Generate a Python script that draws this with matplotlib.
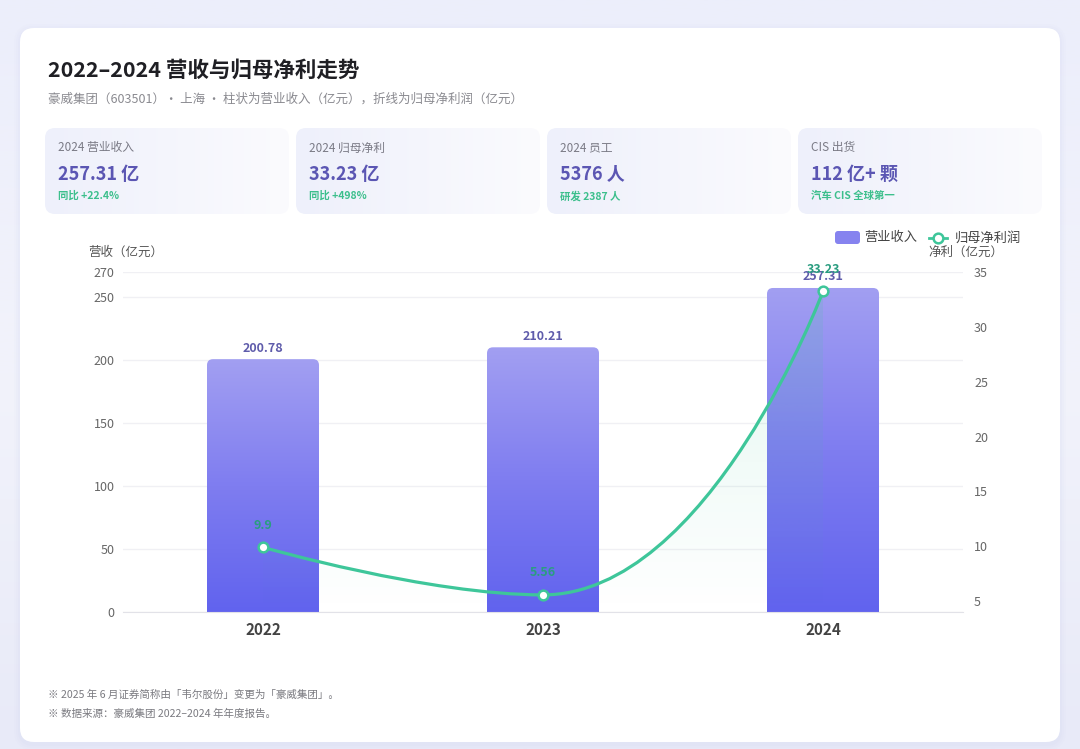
import numpy as np
import matplotlib
matplotlib.use("Agg")
import matplotlib.pyplot as plt
from matplotlib.patches import FancyBboxPatch, PathPatch
from matplotlib.path import Path
from matplotlib.colors import LinearSegmentedColormap, to_rgb

plt.rcParams["font.family"] = ["Noto Sans CJK SC", "DejaVu Sans"]

# data
years = ["2022", "2023", "2024"]
revenue = [200.78, 210.21, 257.31]  # 营业收入（亿元）
profit = [9.9, 5.56, 33.23]  # 归母净利润（亿元）
rev_ticks = [0, 50, 100, 150, 200, 250, 270]
profit_ticks = [5, 10, 15, 20, 25, 30, 35]

kpi_labels = ["2024 营业收入", "2024 归母净利", "2024 员工", "CIS 出货"]
kpi_values = ["257.31 亿", "33.23 亿", "5376 人", "112 亿+ 颗"]
kpi_notes = ["同比 +22.4%", "同比 +498%", "研发 2387 人", "汽车 CIS 全球第一"]

title = "2022–2024 营收与归母净利走势"
subtitle = "豪威集团（603501）• 上海 • 柱状为营业收入（亿元），折线为归母净利润（亿元）"
notes = ["※ 2025 年 6 月证券简称由「韦尔股份」变更为「豪威集团」。",
         "※ 数据来源：豪威集团 2022–2024 年年度报告。"]

GREEN = "#3ec69a"
PURPLE_TXT = "#5b56b3"

W, H = 1080, 749
fig = plt.figure(figsize=(W / 100, H / 100), dpi=100)

# background layer in pixel coordinates (y downwards)
bg = fig.add_axes([0, 0, 1, 1], zorder=-5)
grad_v = np.linspace(0, 1, 256).reshape(-1, 1)
bg_cmap = LinearSegmentedColormap.from_list("bg", ["#eceefb", "#f2f3fb", "#e8eaf8"])
bg.imshow(grad_v, extent=[0, W, H, 0], cmap=bg_cmap, aspect="auto", zorder=0)
bg.set_xlim(0, W)
bg.set_ylim(H, 0)
bg.axis("off")

# soft shadow + white card
for k, a in [(6, 0.05), (4, 0.06), (2, 0.08)]:
    bg.add_patch(FancyBboxPatch((20 - k, 28 - k + 2), 1040 + 2 * k, 714 + 2 * k,
                                boxstyle=f"round,pad=0,rounding_size={14 + k}",
                                fc="#c9cdee", ec="none", alpha=a, zorder=1))
bg.add_patch(FancyBboxPatch((20, 28), 1040, 714, boxstyle="round,pad=0,rounding_size=14",
                            fc="white", ec="none", zorder=1))

bg.text(48, 70, title, fontsize=15.5, fontweight="bold", color="#1f1f24", va="center")
bg.text(48, 99, subtitle, fontsize=9, color="#8a8a90", va="center")

# KPI cards
card_x = [45, 296, 547, 798]
card_w = 244
c0, c1 = np.array(to_rgb("#eef0fb")), np.array(to_rgb("#fbfbfe"))
grad_h = np.linspace(0, 1, 256)
card_img = (c0[None, :] * (1 - grad_h[:, None]) + c1[None, :] * grad_h[:, None])[None, :, :]
for cx, lab, val, note in zip(card_x, kpi_labels, kpi_values, kpi_notes):
    p = FancyBboxPatch((cx, 128), card_w, 86, boxstyle="round,pad=0,rounding_size=10",
                       fc="none", ec="none", zorder=2)
    bg.add_patch(p)
    im = bg.imshow(card_img, extent=[cx, cx + card_w, 214, 128], aspect="auto", zorder=2)
    im.set_clip_path(p)
    bg.text(cx + 13, 148, lab, fontsize=8.5, color="#7a7a85", va="center", zorder=3)
    bg.text(cx + 13, 174, val, fontsize=13, fontweight="bold", color=PURPLE_TXT,
            va="center", zorder=3)
    bg.text(cx + 13, 196, note, fontsize=7.5, fontweight="bold", color="#3cbf8c",
            va="center", zorder=3)
bg.set_xlim(0, W)
bg.set_ylim(H, 0)

# legend and axis names
bg.add_patch(FancyBboxPatch((835, 231), 25, 13, boxstyle="round,pad=0,rounding_size=3",
                            fc="#8683ef", ec="none", zorder=3))
bg.text(864, 238, "营业收入", fontsize=9.5, color="#444", va="center", zorder=3)
bg.plot([929, 947], [238, 238], color=GREEN, lw=2, zorder=3)
bg.plot([938], [238], "o", ms=7, mfc="white", mec=GREEN, mew=1.8, zorder=4)
bg.text(955, 238, "归母净利润", fontsize=9.5, color="#444", va="center", zorder=3)
bg.text(88, 252, "营收（亿元）", fontsize=9, color="#555", va="center", zorder=3)
bg.text(928, 252, "净利（亿元）", fontsize=9, color="#555", va="center", zorder=3)

for i, t in enumerate(notes):
    bg.text(48, 695 + 19 * i, t, fontsize=7.6, color="#7a7a80", va="center", zorder=3)

# main chart
ax = fig.add_axes([123 / W, (H - 612) / H, 840 / W, 340 / H])
x = np.arange(len(years))
bars = ax.bar(x, revenue, width=0.4, color="none", zorder=2)
ax.set_xlim(-0.5, 2.5)
ax.set_ylim(0, 270)

bbox = ax.get_window_extent()
px_x = bbox.width / 3.0
px_y = bbox.height / 270.0
rx, ry = 6 / px_x, 6 / px_y
bar_cmap = LinearSegmentedColormap.from_list("bar", ["#6163ee", "#7f7df0", "#a29ff2"])
for b in bars:
    x0, w, h = b.get_x(), b.get_width(), b.get_height()
    clip = FancyBboxPatch((x0, -3 * ry), w, h + 3 * ry,
                          boxstyle=f"round,pad=0,rounding_size={rx}",
                          mutation_aspect=ry / rx, fc="none", ec="none")
    ax.add_patch(clip)
    im = ax.imshow(grad_v, extent=[x0, x0 + w, 0, h], origin="lower", cmap=bar_cmap,
                   aspect="auto", zorder=2)
    im.set_clip_path(clip)
    ax.annotate(f"{h:.2f}", (b.get_x() + w / 2, h), xytext=(0, 8), textcoords="offset points",
                ha="center", va="center", fontsize=9, fontweight="bold", color="#5f5cab")
ax.set_xlim(-0.5, 2.5)
ax.set_ylim(0, 270)

ax.set_yticks(rev_ticks)
ax.yaxis.grid(True, color="#f0f0f4", lw=1)
ax.set_axisbelow(True)
ax.tick_params(axis="y", length=0, labelsize=9, labelcolor="#666", pad=6)
ax.set_xticks(x, years)
ax.tick_params(axis="x", length=0, labelsize=11, labelcolor="#444", pad=7)
for lbl in ax.get_xticklabels():
    lbl.set_fontweight("bold")
for s in ["top", "left", "right"]:
    ax.spines[s].set_visible(False)
ax.spines["bottom"].set_color("#e2e2e8")

# net profit line on right axis
ax2 = ax.twinx()
ax2.set_ylim(4, 35)
ax2.set_yticks(profit_ticks)
ax2.tick_params(axis="y", length=0, labelsize=9, labelcolor="#666", pad=8)
for s in ax2.spines.values():
    s.set_visible(False)


def smooth_path(axis, xs, ys, smooth=0.5):
    # bezier control points in screen space, flat tangent at local extremes
    pts = axis.transData.transform(np.column_stack([xs, ys]))
    n = len(pts)
    left, right = list(pts), list(pts)
    for i in range(1, n - 1):
        p, prev, nxt = pts[i], pts[i - 1], pts[i + 1]
        v = nxt - prev
        if (ys[i] - ys[i - 1]) * (ys[i + 1] - ys[i]) <= 0:
            v = np.array([v[0], 0.0])
        d0, d1 = np.hypot(*(p - prev)), np.hypot(*(nxt - p))
        r = d0 / (d0 + d1)
        left[i] = p - v * smooth * r
        right[i] = p + v * smooth * (1 - r)
    verts, codes = [pts[0]], [Path.MOVETO]
    for i in range(n - 1):
        verts += [right[i], left[i + 1], pts[i + 1]]
        codes += [Path.CURVE4] * 3
    return axis.transData.inverted().transform(np.array(verts)), codes


verts, codes = smooth_path(ax2, x, profit)
# faint area under the curve
area_verts = np.vstack([verts, [[x[-1], 4], [x[0], 4], [x[0], 4]]])
area_codes = codes + [Path.LINETO, Path.LINETO, Path.CLOSEPOLY]
area = PathPatch(Path(area_verts, area_codes), fc="none", ec="none")
ax2.add_patch(area)
g = np.array(to_rgb(GREEN))
alpha = np.linspace(0.0, 0.16, 256)
area_img = np.zeros((256, 1, 4))
area_img[:, 0, :3] = g
area_img[:, 0, 3] = alpha
im = ax2.imshow(area_img, extent=[x[0], x[-1], 4, 35], origin="lower", aspect="auto", zorder=3)
im.set_clip_path(area)

ax2.add_patch(PathPatch(Path(verts, codes), fc="none", ec=GREEN, lw=2.3, zorder=5))
ax2.plot(x, profit, "o", ms=7, mfc="white", mec=GREEN, mew=1.8, zorder=6, clip_on=False)
for xi, v in zip(x, profit):
    ax2.annotate(f"{v:g}", (xi, v), xytext=(0, 16), textcoords="offset points",
                 ha="center", va="center", fontsize=9, fontweight="bold", color="#2a9d80")
ax2.set_xlim(-0.5, 2.5)
ax2.set_ylim(4, 35)

fig.savefig("out.png", dpi=100)
